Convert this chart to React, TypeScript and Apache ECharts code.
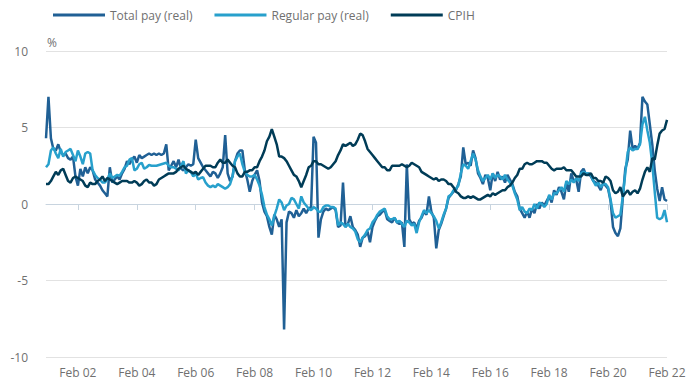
import React, { useEffect, useRef } from "react";
import * as echarts from "echarts";

const years = ["01","02","03","04","05","06","07","08","09","10","11","12","13","14","15","16","17","18","19","20","21","22"];
const monthNames = ["Jan","Feb","Mar","Apr","May","Jun","Jul","Aug","Sep","Oct","Nov","Dec"];
const categories: string[] = [];
years.forEach((y) => monthNames.forEach((m) => categories.push(`${m} ${y}`)));
categories.splice(254);

const totalPay = [
  4.3, 7.0, 4.3, 3.6, 3.5, 3.9, 3.4, 3.2, 3.3, 3.0, 2.9, 3.1,
  1.8, 1.2, 2.3, 1.8, 2.4, 2.0, 2.4, 2.2, 1.6, 1.4, 1.2, 0.9,
  0.7, 0.5, 2.4, 1.4, 1.6, 1.8, 1.6, 2.0, 2.3, 2.8, 2.6, 2.9,
  3.1, 2.7, 3.2, 3.0, 3.1, 3.2, 3.3, 3.2, 3.3, 3.2, 3.3, 3.2,
  3.3, 3.9, 2.2, 2.5, 2.8, 2.4, 2.9, 2.3, 2.2, 2.4, 2.6, 2.5,
  2.6, 4.2, 3.0, 2.7, 2.4, 2.2, 2.0, 1.8, 2.1, 2.0, 1.7, 2.0,
  2.4, 4.5, 2.0, 1.5, 1.8, 2.8, 3.3, 3.5, 3.5, 2.2, 1.6, 0.8,
  1.5, 1.9, 2.2, 1.5, 0.1, -0.5, -0.8, -1.5, -2.0, -0.7, -1.0, -1.5,
  -1.0, -8.2, -1.2, -0.5, -0.6, -0.9, -0.4, -0.8, -0.6, -0.3, -0.6, -0.3,
  -0.2, 4.4, 4.0, -2.2, -1.0, -0.5, -0.3, -0.4, -0.3, -0.2, -0.4, -1.5,
  -1.4, 1.4, -1.5, -1.3, -0.8, -1.5, -1.7, -2.0, -2.8, -2.2, -2.1, -1.8,
  -2.5, -1.5, -1.1, -0.8, -0.7, -0.5, -0.4, -1.0, -1.1, -1.2, -0.9, -1.2,
  -1.3, -1.2, -2.8, 2.6, -1.0, -1.3, -1.2, -1.6, -1.1, -0.9, -0.5, -0.7,
  0.5, -0.5, -0.9, -2.9, -1.7, -1.3, -0.8, -0.3, 0.4, 0.6, 0.8, 0.9,
  1.3, 1.8, 3.7, 2.6, 2.7, 2.5, 3.5, 3.0, 2.0, 1.7, 1.3, 1.9,
  1.7, 0.9, 2.0, 1.5, 2.1, 1.6, 1.8, 1.4, 1.9, 1.6, 1.3, 0.8,
  0.5, -0.3, -0.6, -0.9, -0.5, -0.9, -0.3, -0.6, 0.0, -0.3, 0.1, -0.1,
  0.2, 0.5, 0.1, 0.9, 0.6, 1.1, 0.8, 0.3, 1.4, 0.8, 2.0, 1.5,
  1.6, 0.8, 2.1, 2.3, 1.9, 2.0, 1.8, 1.5, 1.4, 1.2, 0.9, 1.4,
  1.2, 1.0, 0.2, -1.5, -1.9, -2.1, -1.6, 0.4, 2.3, 2.9, 4.8, 3.6,
  3.8, 3.6, 4.0, 7.0, 6.7, 6.5, 5.2, 3.9, 2.2, 1.0, 0.2, 1.1,
  0.3, 0.2,
];

const regularPay = [
  2.4, 2.6, 3.5, 3.7, 3.3, 3.0, 3.6, 3.1, 3.4, 3.5, 3.6, 3.2,
  2.8, 3.5, 3.1, 2.6, 3.3, 3.4, 3.3, 2.2, 1.9, 1.7, 1.6, 1.4,
  1.4, 1.6, 2.0, 1.7, 1.8, 1.9, 1.85, 2.1, 2.4, 2.5, 2.9, 3.0,
  2.2, 2.3, 2.6, 2.7, 2.3, 2.4, 2.55, 2.5, 2.5, 2.5, 2.55, 2.6,
  2.65, 2.7, 2.5, 2.4, 2.4, 2.3, 2.2, 2.5, 2.8, 2.0, 2.2, 2.1,
  1.8, 2.0, 1.6, 1.7, 1.75, 1.4, 1.2, 1.1, 1.2, 1.1, 1.3, 1.2,
  1.1, 1.0, 1.1, 1.3, 1.8, 2.8, 3.1, 3.3, 2.6, 2.1, 1.9, 1.8,
  1.8, 1.9, 1.6, 1.2, 0.6, -0.2, -0.7, -1.0, -1.4, -0.8, -0.3, 0.3,
  0.1, -0.4, -0.1, 0.0, 0.4, 0.3, 0.0, -0.3, 0.5, 0.1, -0.1, -0.3,
  -0.4, -0.2, -0.3, -0.5, -0.5, -0.2, -0.1, -0.1, -0.2, -0.2, -0.3, -1.4,
  -1.2, -1.3, -1.5, -1.3, -1.5, -1.6, -1.8, -2.3, -2.5, -2.2, -2.0, -1.7,
  -1.6, -1.2, -1.0, -0.7, -0.5, -0.4, -0.3, -0.8, -1.0, -1.0, -0.9, -1.2,
  -1.1, -1.3, -1.5, -1.1, -1.2, -1.4, -1.3, -1.9, -1.2, -0.8, -0.4, -0.6,
  -0.4, -0.6, -0.8, -1.1, -1.6, -1.2, -0.7, -0.3, 0.5, 0.6, 0.9, 1.0,
  1.2, 2.0, 2.6, 2.5, 2.3, 2.8, 3.3, 2.9, 2.2, 1.8, 1.5, 1.7,
  1.9, 1.6, 2.0, 1.7, 1.9, 1.8, 1.6, 1.9, 1.6, 1.4, 1.2, 0.7,
  0.3, -0.4, -0.2, -0.5, -0.6, -0.3, -0.4, 0.0, -0.3, 0.1, 0.0, -0.2,
  0.0, 0.6, 0.3, 0.7, 0.7, 0.9, 1.1, 0.8, 1.5, 1.3, 1.6, 1.4,
  1.7, 1.5, 2.0, 2.1, 2.0, 2.0, 1.9, 1.5, 1.2, 1.4, 1.1, 1.3,
  1.3, 1.1, 0.3, -0.6, -0.9, -0.8, -0.7, 0.5, 2.0, 3.4, 3.7, 3.5,
  3.6, 3.6, 3.9, 5.2, 5.7, 4.8, 4.0, 2.6, 0.8, -0.9, -1.0, -0.9,
  -0.4, -1.2,
];

const cpih = [
  1.3, 1.3, 1.5, 1.8, 2.1, 1.9, 2.2, 2.3, 1.9, 1.5, 1.4, 1.7,
  1.8, 1.7, 1.6, 1.5, 1.2, 1.1, 1.4, 1.3, 1.3, 1.5, 1.6, 1.8,
  1.5, 1.7, 1.6, 1.5, 1.4, 1.3, 1.4, 1.5, 1.5, 1.5, 1.4, 1.4,
  1.5, 1.4, 1.2, 1.3, 1.5, 1.6, 1.4, 1.4, 1.2, 1.3, 1.6, 1.7,
  1.8, 1.9, 2.0, 2.0, 2.0, 2.1, 2.3, 2.4, 2.5, 2.3, 2.2, 2.1,
  2.0, 2.1, 1.9, 2.1, 2.3, 2.5, 2.5, 2.5, 2.4, 2.4, 2.7, 2.9,
  2.7, 2.7, 2.9, 2.7, 2.5, 2.4, 2.0, 1.8, 1.8, 2.1, 2.1, 2.2,
  2.2, 2.4, 2.4, 2.8, 3.1, 3.5, 4.1, 4.4, 4.9, 4.4, 3.9, 3.1,
  3.1, 3.0, 2.8, 2.5, 2.2, 1.9, 1.8, 1.5, 1.1, 1.5, 1.9, 2.4,
  2.5, 2.8, 2.8, 2.6, 2.6, 2.5, 2.4, 2.3, 2.4, 2.6, 2.8, 3.2,
  3.5, 3.9, 3.8, 3.9, 4.0, 3.8, 3.9, 4.2, 4.6, 4.5, 4.1, 3.6,
  3.4, 3.2, 3.0, 2.8, 2.6, 2.4, 2.4, 2.2, 2.2, 2.5, 2.5, 2.5,
  2.5, 2.6, 2.5, 2.4, 2.5, 2.7, 2.6, 2.5, 2.4, 2.1, 2.0, 1.9,
  1.8, 1.7, 1.6, 1.7, 1.5, 1.6, 1.6, 1.5, 1.3, 1.3, 1.1, 0.8,
  0.7, 0.5, 0.4, 0.4, 0.5, 0.4, 0.5, 0.4, 0.3, 0.3, 0.4, 0.5,
  0.6, 0.5, 0.7, 0.6, 0.7, 0.8, 0.9, 0.9, 1.1, 1.2, 1.4, 1.7,
  1.9, 2.3, 2.3, 2.6, 2.7, 2.6, 2.6, 2.7, 2.8, 2.8, 2.8, 2.7,
  2.7, 2.5, 2.3, 2.2, 2.3, 2.3, 2.3, 2.4, 2.2, 2.2, 2.2, 2.0,
  1.8, 1.8, 1.8, 2.0, 1.9, 1.9, 2.0, 1.7, 1.7, 1.5, 1.5, 1.4,
  1.8, 1.7, 1.5, 0.9, 0.7, 0.8, 1.1, 0.5, 0.7, 0.9, 0.6, 0.8,
  0.9, 0.7, 1.0, 1.6, 2.1, 2.4, 2.1, 3.0, 2.9, 3.8, 4.6, 4.8,
  4.9, 5.5,
];

const yTicks = { min: -10, max: 10, interval: 5 };
const seriesNames = ["Total pay (real)", "Regular pay (real)", "CPIH"];
const seriesColors = ["#206095", "#27a0cc", "#003c57"];

const labelEvery = (idx: number) => idx % 24 === 13;

export default function App() {
  const ref = useRef<HTMLDivElement>(null);
  useEffect(() => {
    if (!ref.current) return;
    const chart = echarts.init(ref.current, null, { renderer: "svg" });
    const datasets = [totalPay, regularPay, cpih];
    chart.setOption({
      animation: false,
      textStyle: { fontFamily: "Open Sans" },
      legend: {
        left: 48,
        top: 4,
        icon: "rect",
        itemWidth: 52,
        itemHeight: 3,
        itemGap: 22,
        data: seriesNames,
        textStyle: { color: "#707070", fontSize: 12, fontFamily: "Open Sans" },
      },
      grid: { left: 46, right: 22, top: 51, bottom: 32 },
      xAxis: {
        type: "category",
        boundaryGap: false,
        data: categories,
        axisLine: { lineStyle: { color: "#c8d4df", width: 1 } },
        axisTick: { interval: labelEvery, length: 6, lineStyle: { color: "#c8d4df" } },
        axisLabel: { interval: labelEvery, color: "#707070", fontSize: 12, margin: 9, fontFamily: "Open Sans" },
        splitLine: { show: false },
      },
      yAxis: {
        type: "value",
        min: yTicks.min,
        max: yTicks.max,
        interval: yTicks.interval,
        axisLine: { show: false },
        axisTick: { show: false },
        axisLabel: { color: "#707070", fontSize: 12, margin: 18, fontFamily: "Open Sans" },
        splitLine: { lineStyle: { color: "#e2e2e2", width: 1 } },
      },
      graphic: [
        {
          type: "text",
          left: 47,
          top: 36,
          style: { text: "%", fill: "#707070", font: "12px 'Open Sans'" },
        },
      ],
      series: seriesNames.map((name, i) => ({
        name,
        type: "line",
        data: datasets[i],
        showSymbol: false,
        symbol: "none",
        lineStyle: { color: seriesColors[i], width: 2.5 },
        itemStyle: { color: seriesColors[i] },
        z: 2 + i,
      })),
    });
    return () => chart.dispose();
  }, []);
  return <div ref={ref} style={{ width: 689, height: 389, position: "absolute", left: 0, top: 0 }} />;
}
